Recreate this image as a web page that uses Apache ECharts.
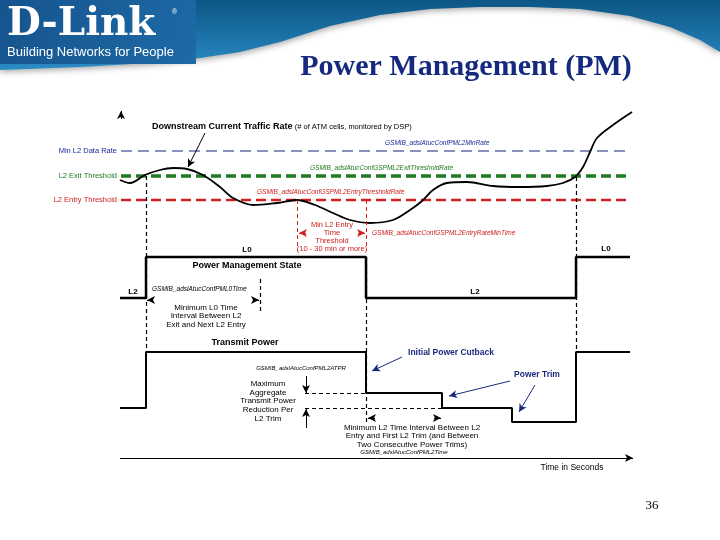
<!DOCTYPE html>
<html>
<head>
<meta charset="utf-8">
<script src="https://cdn.jsdelivr.net/npm/echarts@6/dist/echarts.min.js"></script>
<style>
  html, body { margin: 0; padding: 0; background: #fff; }
  #chart { width: 720px; height: 540px; }
</style>
</head>
<body>
<div id="chart"></div>
<script>
// diagram units: x = time position, y = level (drawn on an inverted axis)
const trafficRate = [
  [120, 180], [130, 183], [145, 175], [160, 170], [173, 168], [187, 169],
  [203, 175], [220, 187], [233, 198], [253, 205], [277, 203], [297, 200],
  [315, 205], [333, 213], [350, 220], [370, 223], [393, 220], [410, 210],
  [422, 201], [433, 190], [447, 183], [467, 182], [493, 186], [520, 187],
  [547, 186], [563, 183], [575, 177], [583, 167], [590, 152], [597, 138],
  [613, 125], [632, 112]
];
const thresholdStart = 121;
const thresholdEnd = 630;
const minL2Rate = 151;
const l2ExitLevel = 176;
const l2EntryLevel = 200;

const pmState = [
  [120, 298], [146, 298], [146, 257], [366, 257], [366, 298],
  [576, 298], [576, 257], [630, 257]
];
const transmitPower = [
  [120, 408], [146, 408], [146, 352], [366, 352], [366, 393], [442, 393],
  [442, 408], [512, 408], [512, 422], [576, 422], [576, 352], [630, 352]
];

// [x1, y1, x2, y2]
const blackGuides = [
  [146, 176, 146, 352], [366, 257, 366, 423], [576, 177, 576, 352],
  [260, 279, 260, 313], [305, 393, 366, 393], [305, 408, 442, 408]
];
const redGuides = [[297, 200, 297, 251], [366, 200, 366, 251]];
const blackArrows = [
  [205, 133, 188, 167], [121, 119, 121, 111], [120, 458, 633, 458],
  [153, 300, 147, 300], [253, 300, 259, 300],
  [306, 376, 306, 393], [306, 428, 306, 409],
  [375, 418, 368, 418], [434, 418, 441, 418]
];
const redArrows = [[306, 233, 299, 233], [358, 233, 365, 233]];
const navyArrows = [[402, 357, 372, 371], [510, 381, 449, 396], [535, 385, 519, 412]];

// header wave outline
const bandEdge = [
  [720, 52], [700, 40], [670, 27], [630, 16], [580, 9], [530, 7], [480, 7],
  [430, 9], [380, 15], [330, 26], [280, 42], [240, 52], [200, 58],
  [150, 63], [80, 67], [0, 70]
];

const chart = echarts.init(document.getElementById("chart"), null, { renderer: "canvas" });

const seg = (list, color, width, type, arrow) =>
  list.map(s => [
    { coord: [s[0], s[1]], symbol: "none", lineStyle: { color: color, width: width, type: type } },
    { coord: [s[2], s[3]], symbol: arrow ? "arrow" : "none", symbolSize: arrow ? [6, 8] : 0 }
  ]);

const txt = (text, x, y, opts) => ({
  type: "text",
  x: x,
  y: y,
  silent: true,
  style: Object.assign({
    text: text,
    fill: "#000",
    font: "8px 'Liberation Sans', Arial, sans-serif",
    align: "center",
    verticalAlign: "middle"
  }, opts || {})
});

const italicFont = "italic 6.5px 'Liberation Sans', Arial, sans-serif";
const navy = "#1b2a7e";

const option = {
  animation: false,
  backgroundColor: "#fff",
  grid: { left: 0, right: 0, top: 0, bottom: 0 },
  xAxis: { type: "value", min: 0, max: 720, show: false },
  yAxis: { type: "value", min: 0, max: 540, inverse: true, show: false },
  graphic: [
    // header band
    {
      type: "polygon",
      silent: true,
      shape: { points: [[0, 0], [720, 0]].concat(bandEdge) },
      style: {
        fill: new echarts.graphic.LinearGradient(0, 0, 0, 1, [
          { offset: 0, color: "#0c5686" },
          { offset: 1, color: "#2b8cc6" }
        ]),
        shadowColor: "rgba(0,0,0,0.35)",
        shadowBlur: 6,
        shadowOffsetY: 2
      }
    },
    {
      type: "rect",
      silent: true,
      shape: { x: 0, y: 0, width: 196, height: 64 },
      style: {
        fill: new echarts.graphic.LinearGradient(0, 0, 1, 1, [
          { offset: 0, color: "#16548e" },
          { offset: 1, color: "#1d6aa6" }
        ])
      }
    },
    txt("D-Link", 7, 25, { fill: "#fff", align: "left", font: "bold 39px 'DejaVu Serif', serif" }),
    txt("®", 172, 12, { fill: "#fff", align: "left", font: "7px 'Liberation Sans', sans-serif" }),
    txt("Building Networks for People", 7, 52, { fill: "#fff", align: "left", font: "13px 'Liberation Sans Narrow', 'Liberation Sans', sans-serif" }),
    txt("Power Management (PM)", 466, 67, { fill: "#15297e", font: "bold 30px 'Liberation Serif', 'Times New Roman', serif" }),
    txt("36", 652, 506, { font: "13px 'Liberation Serif', serif" }),

    // traffic section
    txt("{b|Downstream Current Traffic Rate} {n|(# of ATM cells, monitored by DSP)}", 152, 127, {
      align: "left",
      rich: {
        b: { fontSize: 9, fontWeight: "bold", fontFamily: "Liberation Sans" },
        n: { fontSize: 7.5, fontFamily: "Liberation Sans" }
      }
    }),
    txt("Min L2 Data Rate", 117, 151, { align: "right", fill: "#1b2a9c", font: "7.5px 'Liberation Sans', sans-serif" }),
    txt("L2 Exit Threshold", 117, 176, { align: "right", fill: "#1e7a1e", font: "7.5px 'Liberation Sans', sans-serif" }),
    txt("L2 Entry Threshold", 117, 200, { align: "right", fill: "#cc2020", font: "7.5px 'Liberation Sans', sans-serif" }),
    txt("GSMIB_adslAtucConfPML2MinRate", 385, 143, { align: "left", fill: "#1b2a9c", font: italicFont }),
    txt("GSMIB_adslAtucConfGSPML2ExitThresholdRate", 310, 168, { align: "left", fill: "#1e7a1e", font: italicFont }),
    txt("GSMIB_adslAtucConfGSPML2EntryThresholdRate", 257, 192, { align: "left", fill: "#cc2020", font: italicFont }),
    txt("Min L2 Entry\nTime\nThreshold\n(10 - 30 min or more)", 332, 237, { fill: "#cc2020", lineHeight: 8, font: "7.5px 'Liberation Sans', sans-serif" }),
    txt("GSMIB_adslAtucConfGSPML2EntryRateMinTime", 372, 233, { align: "left", fill: "#cc2020", font: italicFont }),

    // power management state
    txt("L0", 247, 250, { font: "bold 8px 'Liberation Sans', sans-serif" }),
    txt("Power Management State", 247, 266, { font: "bold 9px 'Liberation Sans', sans-serif" }),
    txt("L2", 133, 292, { font: "bold 8px 'Liberation Sans', sans-serif" }),
    txt("L2", 475, 292, { font: "bold 8px 'Liberation Sans', sans-serif" }),
    txt("L0", 606, 249, { font: "bold 8px 'Liberation Sans', sans-serif" }),
    txt("GSMIB_adslAtucConfPML0Time", 152, 289, { align: "left", font: italicFont }),
    txt("Minimum L0 Time\nInterval Between L2\nExit and Next L2 Entry", 206, 316, { lineHeight: 8.7, font: "8px 'Liberation Sans', sans-serif" }),

    // transmit power
    txt("Transmit Power", 245, 343, { font: "bold 9px 'Liberation Sans', sans-serif" }),
    txt("GSMIB_adslAtucConfPML2ATPR", 301, 368, { font: "italic 6px 'Liberation Sans', sans-serif" }),
    txt("Maximum\nAggregate\nTransmit Power\nReduction Per\nL2 Trim", 268, 401, { lineHeight: 8.7, font: "8px 'Liberation Sans', sans-serif" }),
    txt("Minimum L2 Time Interval Between L2\nEntry and First L2 Trim (and Between\nTwo Consecutive Power Trims)", 412, 436, { lineHeight: 8.7, font: "8px 'Liberation Sans', sans-serif" }),
    txt("GSMIB_adslAtucConfPML2Time", 404, 452, { font: "italic 6px 'Liberation Sans', sans-serif" }),
    txt("Initial Power Cutback", 451, 353, { fill: navy, font: "bold 8.5px 'Liberation Sans', sans-serif" }),
    txt("Power Trim", 537, 375, { fill: navy, font: "bold 8.5px 'Liberation Sans', sans-serif" }),
    txt("Time in Seconds", 572, 468, { font: "8.5px 'Liberation Sans', sans-serif" })
  ],
  series: [
    {
      name: "Min L2 Data Rate",
      type: "line",
      data: [[thresholdStart, minL2Rate], [thresholdEnd, minL2Rate]],
      showSymbol: false,
      silent: true,
      lineStyle: { color: "#16237f", width: 1.2, type: [11, 6] }
    },
    {
      name: "L2 Exit Threshold",
      type: "line",
      data: [[thresholdStart, l2ExitLevel], [thresholdEnd, l2ExitLevel]],
      showSymbol: false,
      silent: true,
      lineStyle: { color: "#1e7a1e", width: 3.5, type: [10, 5] }
    },
    {
      name: "L2 Entry Threshold",
      type: "line",
      data: [[thresholdStart, l2EntryLevel], [thresholdEnd, l2EntryLevel]],
      showSymbol: false,
      silent: true,
      lineStyle: { color: "#d02020", width: 2.5, type: [10, 5] }
    },
    {
      name: "Traffic Rate",
      type: "line",
      data: trafficRate,
      smooth: 0.35,
      showSymbol: false,
      silent: true,
      lineStyle: { color: "#000", width: 1.8 }
    },
    {
      name: "Power Management State",
      type: "line",
      data: pmState,
      showSymbol: false,
      silent: true,
      lineStyle: { color: "#000", width: 2.5 }
    },
    {
      name: "Transmit Power",
      type: "line",
      data: transmitPower,
      showSymbol: false,
      silent: true,
      lineStyle: { color: "#000", width: 2 }
    },
    {
      name: "guides",
      type: "line",
      data: [],
      silent: true,
      markLine: {
        silent: true,
        animation: false,
        label: { show: false },
        emphasis: { disabled: true },
        data: []
          .concat(seg(blackGuides, "#000", 1.2, [4, 3], false))
          .concat(seg(redGuides, "#d02020", 1, [4, 3], false))
          .concat(seg(blackArrows, "#000", 1, "solid", true))
          .concat(seg(redArrows, "#d02020", 1, "solid", true))
          .concat(seg(navyArrows, navy, 1, "solid", true))
      }
    }
  ]
};

chart.setOption(option);
</script>
</body>
</html>
